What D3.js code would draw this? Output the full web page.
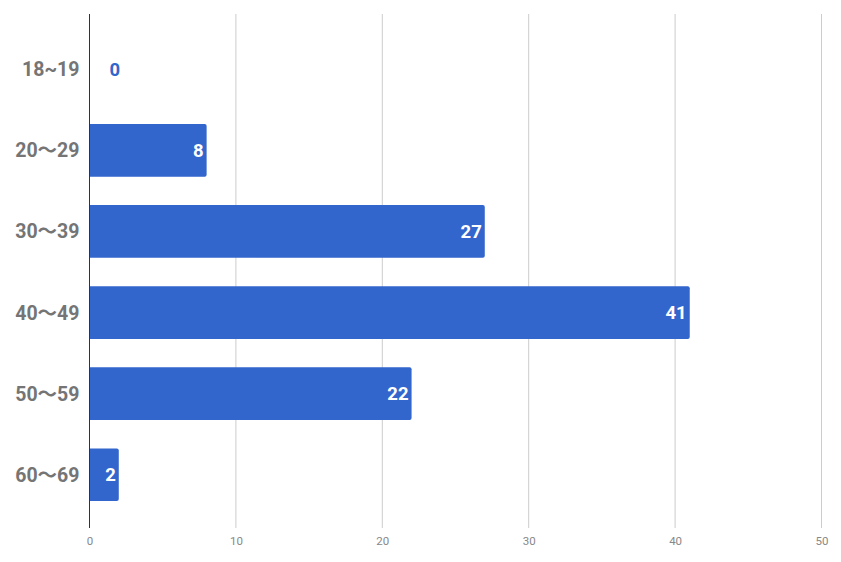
<!DOCTYPE html>
<html>
<head>
<meta charset="utf-8">
<script src="https://cdn.jsdelivr.net/npm/d3@7"></script>
<style>
  body { margin: 0; background: #fff; }
  text { font-family: Roboto, "Noto Sans CJK JP", sans-serif; }
</style>
</head>
<body>
<div id="chart"></div>
<script>
const ageGroups = ["18~19", "20〜29", "30〜39", "40〜49", "50〜59", "60〜69"];
const counts = [0, 8, 27, 41, 22, 2];
const xTicks = [0, 10, 20, 30, 40, 50];

const W = 841, H = 562;
const MARGIN = { TOP: 14, BOTTOM: 34, LEFT: 89.5, RIGHT: 19.5 };
const BLUE = "#3366cc";

const svg = d3.select("#chart")
  .append("svg")
    .attr("width", W)
    .attr("height", H);

const x = d3.scaleLinear()
  .domain([0, 50])
  .range([MARGIN.LEFT, W - MARGIN.RIGHT]);

const y = d3.scaleBand()
  .domain(ageGroups)
  .range([MARGIN.TOP + 1, H - MARGIN.BOTTOM + 1])
  .paddingInner(0.35)
  .paddingOuter(0.344);

// gridlines
svg.append("g")
  .selectAll("line")
  .data(xTicks.filter(d => d > 0))
  .enter().append("line")
    .attr("x1", d => x(d)).attr("x2", d => x(d))
    .attr("y1", MARGIN.TOP).attr("y2", H - MARGIN.BOTTOM)
    .attr("stroke", "#cccccc")
    .attr("stroke-width", 1);

// bottom tick labels
const xAxis = d3.axisBottom(x).tickValues(xTicks).tickSize(0).tickPadding(0);
const gx = svg.append("g")
  .attr("transform", `translate(0, ${H - MARGIN.BOTTOM})`)
  .call(xAxis);
gx.select(".domain").remove();
gx.selectAll("text")
  .attr("y", 17)
  .attr("dy", 0)
  .style("font-size", "11.5px")
  .style("fill", "#888888");

// bars, square left edge, slightly rounded right
svg.append("g")
  .selectAll("path")
  .data(counts.map((v, i) => ({ k: ageGroups[i], v })))
  .enter().filter(d => d.v > 0).append("path")
    .attr("fill", BLUE)
    .attr("d", d => {
      const x0 = x(0), x1 = x(d.v), y0 = y(d.k), h = y.bandwidth(), r = 2;
      return `M${x0},${y0}H${x1 - r}Q${x1},${y0} ${x1},${y0 + r}V${y0 + h - r}Q${x1},${y0 + h} ${x1 - r},${y0 + h}H${x0}Z`;
    });

// value labels
svg.append("g")
  .selectAll("text")
  .data(counts.map((v, i) => ({ k: ageGroups[i], v })))
  .enter().append("text")
    .attr("x", d => d.v > 0 ? x(d.v) - 3 : x(0) + 20)
    .attr("y", d => y(d.k) + y.bandwidth() / 2)
    .attr("dy", "0.36em")
    .attr("text-anchor", d => d.v > 0 ? "end" : "start")
    .style("font-size", "18.5px")
    .style("font-weight", "bold")
    .style("fill", d => d.v > 0 ? "#ffffff" : BLUE)
    .text(d => d.v);

// category labels
const yAxis = d3.axisLeft(y).tickSize(0).tickPadding(10);
const gy = svg.append("g")
  .attr("transform", `translate(${MARGIN.LEFT}, 0)`)
  .call(yAxis);
gy.select(".domain").remove();
gy.selectAll("text")
  .attr("dy", "0.36em")
  .style("font-size", "19.5px")
  .style("font-weight", "bold")
  .style("fill", "#757575");

// baseline
svg.append("line")
  .attr("x1", x(0)).attr("x2", x(0))
  .attr("y1", MARGIN.TOP).attr("y2", H - MARGIN.BOTTOM)
  .attr("stroke", "#333333")
  .attr("stroke-width", 1);
</script>
</body>
</html>
